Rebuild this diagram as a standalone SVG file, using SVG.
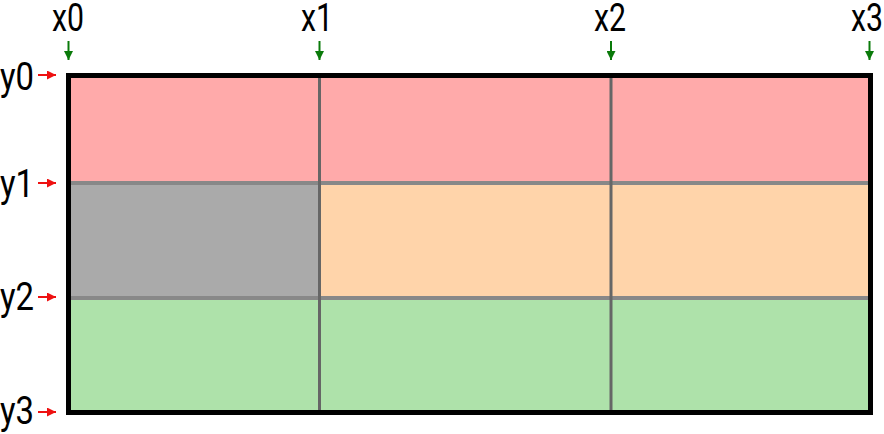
<svg xmlns="http://www.w3.org/2000/svg" width="884" height="434" viewBox="0 0 884 434">
<style>
.lbl{font-family:"Roboto","Liberation Sans",sans-serif;font-size:38px;fill:#000}
.xa{stroke:#0a7a0a;stroke-width:2;fill:none}
.ya{stroke:#ee1111;stroke-width:2;fill:none}
.hl{stroke:#888;stroke-width:4}
.vl{stroke:#666;stroke-width:3}
</style>
<defs>
<marker id="ag" viewBox="0 0 10 10" refX="10" refY="5" markerWidth="4.5" markerHeight="4.5" orient="auto" markerUnits="strokeWidth"><path d="M0,0 L10,5 L0,10 z" fill="#0a7a0a"/></marker>
<marker id="ar" viewBox="0 0 10 10" refX="10" refY="5" markerWidth="4.5" markerHeight="4.5" orient="auto" markerUnits="strokeWidth"><path d="M0,0 L10,5 L0,10 z" fill="#ee1111"/></marker>
</defs>
<rect width="884" height="434" fill="#fff"/>
<g id="cells">
<rect x="68.5" y="75.5" width="802" height="107.5" fill="#ffaaaa"/>
<rect x="68.5" y="183" width="251" height="115" fill="#aaaaaa"/>
<rect x="319.5" y="183" width="551" height="115" fill="#ffd4aa"/>
<rect x="68.5" y="298" width="802" height="114.5" fill="#aee2aa"/>
</g>
<g id="connectors">
<line class="hl" x1="68.5" y1="183" x2="870.5" y2="183"/>
<line class="hl" x1="68.5" y1="298" x2="870.5" y2="298"/>
<line class="vl" x1="319.5" y1="75.5" x2="319.5" y2="412.5"/>
<line class="vl" x1="611" y1="75.5" x2="611" y2="412.5"/>
<line class="xa" x1="68.5" y1="41" x2="68.5" y2="60" marker-end="url(#ag)"/>
<line class="xa" x1="319.5" y1="41" x2="319.5" y2="60" marker-end="url(#ag)"/>
<line class="xa" x1="611" y1="41" x2="611" y2="60" marker-end="url(#ag)"/>
<line class="xa" x1="869.5" y1="41" x2="869.5" y2="60" marker-end="url(#ag)"/>
<line class="ya" x1="38" y1="75" x2="56" y2="75" marker-end="url(#ar)"/>
<line class="ya" x1="38" y1="183" x2="56" y2="183" marker-end="url(#ar)"/>
<line class="ya" x1="38" y1="297" x2="56" y2="297" marker-end="url(#ar)"/>
<line class="ya" x1="38" y1="412" x2="56" y2="412" marker-end="url(#ar)"/>
</g>
<g id="frame"><rect x="68.5" y="75.5" width="802" height="337" fill="none" stroke="#000" stroke-width="5"/></g>
<g id="xlabels">
<text class="lbl" x="68" y="31" text-anchor="middle" textLength="32" lengthAdjust="spacingAndGlyphs">x0</text>
<text class="lbl" x="317" y="31" text-anchor="middle" textLength="32" lengthAdjust="spacingAndGlyphs">x1</text>
<text class="lbl" x="610" y="31" text-anchor="middle" textLength="32" lengthAdjust="spacingAndGlyphs">x2</text>
<text class="lbl" x="867" y="31" text-anchor="middle" textLength="32" lengthAdjust="spacingAndGlyphs">x3</text>
</g>
<g id="ylabels">
<text class="lbl" x="0" y="90" textLength="34" lengthAdjust="spacingAndGlyphs">y0</text>
<text class="lbl" x="0" y="197" textLength="34" lengthAdjust="spacingAndGlyphs">y1</text>
<text class="lbl" x="0" y="310" textLength="34" lengthAdjust="spacingAndGlyphs">y2</text>
<text class="lbl" x="0" y="424" textLength="34" lengthAdjust="spacingAndGlyphs">y3</text>
</g>
</svg>
